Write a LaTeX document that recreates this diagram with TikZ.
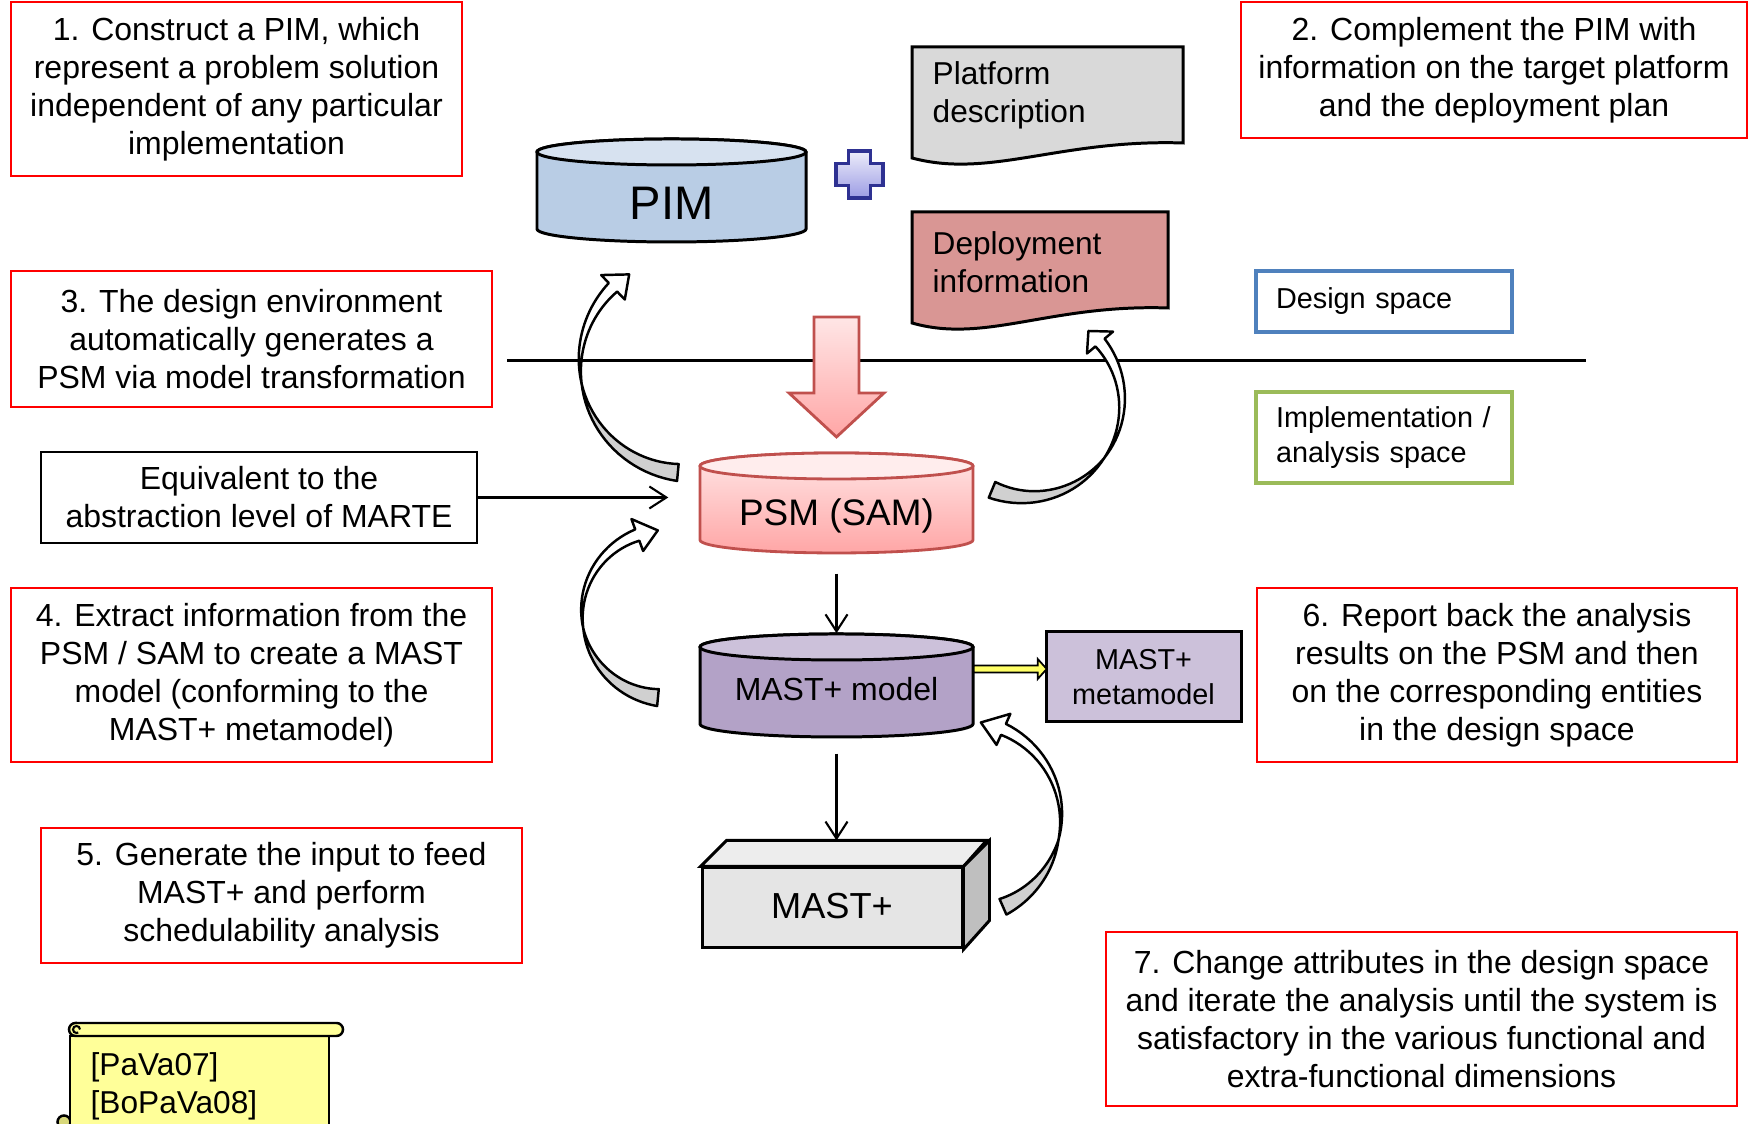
\documentclass[tikz,border=0pt]{standalone}
\usepackage{fontspec}
\setmainfont{Liberation Sans}
\usetikzlibrary{arrows.meta,calc}

\definecolor{pimblue}{HTML}{B9CDE5}
\definecolor{pimtop}{HTML}{D7E2F0}
\definecolor{psmline}{HTML}{C0504D}
\definecolor{psmlight}{HTML}{FFE6E6}
\definecolor{psmdark}{HTML}{FFA6A6}
\definecolor{psmtop}{HTML}{FFEDED}
\definecolor{mastviolet}{HTML}{B3A2C7}
\definecolor{masttop}{HTML}{CCC1DA}
\definecolor{platgrey}{HTML}{D9D9D9}
\definecolor{deployrose}{HTML}{D99694}
\definecolor{plusline}{HTML}{2E3192}
\definecolor{pluslight}{HTML}{ECECFA}
\definecolor{plusdark}{HTML}{9C9CE4}
\definecolor{designblue}{HTML}{4F81BD}
\definecolor{implgreen}{HTML}{9BBB59}
\definecolor{backgrey}{HTML}{D0D0D0}
\definecolor{scrollyellow}{HTML}{FFFF99}
\definecolor{scrolldark}{HTML}{D8D87A}
\definecolor{metayellow}{HTML}{FFFF66}

% cilindro: centro x, y topo, y base, meia largura, corpo, tampa
\newcommand{\dbcylinder}[6]{%
  \path[#5] (#1-#4,#2) -- (#1-#4,#3)
    arc[start angle=180, end angle=360, x radius=#4, y radius=0.13]
    -- (#1+#4,#2) arc[start angle=0, end angle=180, x radius=#4, y radius=0.13] -- cycle;
  \path[#6] (#1,#2) ellipse[x radius=#4, y radius=0.13];
}

% seta curva: centro x, centro y, raio, cauda, cruzamento, base da ponta, ponta
\newcommand{\bentarrow}[7]{%
  \filldraw[bentline, fill=backgrey]
    plot[domain=#4:#5, samples=24] ({#1+(#3+0.085*(\x-#5)/(#4-#5))*cos(\x)}, {#2+(#3+0.085*(\x-#5)/(#4-#5))*sin(\x)})
    -- plot[domain=#5:#4, samples=24] ({#1+(#3-0.085*(\x-#5)/(#4-#5))*cos(\x)}, {#2+(#3-0.085*(\x-#5)/(#4-#5))*sin(\x)})
    -- cycle;
  \filldraw[bentline, fill=white]
    plot[domain=#5:#6, samples=24] ({#1+(#3+0.06*(\x-#5)/(#6-#5))*cos(\x)}, {#2+(#3+0.06*(\x-#5)/(#6-#5))*sin(\x)})
    -- ({#1+(#3+0.17)*cos(#6)}, {#2+(#3+0.17)*sin(#6)})
    -- ({#1+#3*cos(#7)}, {#2+#3*sin(#7)})
    -- ({#1+(#3-0.17)*cos(#6)}, {#2+(#3-0.17)*sin(#6)})
    -- plot[domain=#6:#5, samples=24] ({#1+(#3-0.06*(\x-#5)/(#6-#5))*cos(\x)}, {#2+(#3-0.06*(\x-#5)/(#6-#5))*sin(\x)})
    -- cycle;
}

\begin{document}
\begin{tikzpicture}[
    redbox/.style={draw=red, line width=0.75pt, inner sep=0pt, align=center, font=\fontsize{9.1}{10.8}\selectfont},
    spacebox/.style={line width=0.9pt, inner xsep=0.2cm, inner ysep=0pt, text width=2.16cm, minimum height=#1, align=left, font=\fontsize{8.2}{9.8}\selectfont},
    doctext/.style={anchor=west, align=left, inner sep=0pt, font=\fontsize{9}{10.8}\selectfont},
    cylbox/.style={inner sep=0pt, minimum width=2.73cm},
    seta/.style={line width=0.6pt, -{Straight Barb[length=1.7mm, width=2.2mm]}},
    bentline/.style={draw=black, line width=0.7pt, line join=round},
    boxline/.style={draw=black, line width=0.85pt}
  ]
  \useasboundingbox (0,0) rectangle (17.49,11.24);

  % Passos
  \node[redbox, minimum width=4.51cm, minimum height=1.74cm] (s1) at (2.365,10.35) {1. Construct a PIM, which\\represent a problem solution\\independent of any particular\\implementation};
  \node[redbox, minimum width=5.06cm, minimum height=1.36cm] (s2) at (14.94,10.54) {2. Complement the PIM with\\information on the target platform\\and the deployment plan};
  \node[redbox, minimum width=4.81cm, minimum height=1.36cm] (s3) at (2.515,7.85) {3. The design environment\\automatically generates a\\PSM via model transformation};
  \node[draw, line width=0.6pt, inner sep=0pt, align=center, minimum width=4.36cm, minimum height=0.91cm,
        font=\fontsize{9.1}{10.8}\selectfont] (eqv) at (2.59,6.265) {Equivalent to the\\abstraction level of MARTE};
  \node[redbox, minimum width=4.81cm, minimum height=1.74cm] (s4) at (2.515,4.49) {4. Extract information from the\\PSM / SAM to create a MAST\\model (conforming to the\\MAST+ metamodel)};
  \node[redbox, minimum width=4.81cm, minimum height=1.35cm] (s5) at (2.815,2.285) {5. Generate the input to feed\\MAST+ and perform\\schedulability analysis};
  \node[redbox, minimum width=4.80cm, minimum height=1.74cm] (s6) at (14.97,4.49) {6. Report back the analysis\\results on the PSM and then\\on the corresponding entities\\in the design space};
  \node[redbox, minimum width=6.31cm, minimum height=1.74cm] (s7) at (14.215,1.05) {7. Change attributes in the design space\\and iterate the analysis until the system is\\satisfactory in the various functional and\\extra-functional dimensions};

  % Espacos
  \node[spacebox=0.61cm, draw=designblue] (design) at (13.84,8.225) {Design space};
  \node[spacebox=0.91cm, draw=implgreen] (impl) at (13.84,6.865) {Implementation /\\analysis space};

  % Linha divisoria
  \draw[line width=0.85pt] (5.07,7.63) -- (15.86,7.63);

  % PIM
  \dbcylinder{6.715}{9.72}{8.95}{1.345}{draw=black, line width=0.85pt, fill=pimblue}{draw=black, line width=0.85pt, fill=pimtop}
  \node[cylbox, font=\fontsize{13.4}{14}\selectfont] (pim) at (6.715,9.21) {PIM};

  % Sinal de mais
  \filldraw[draw=plusline, line width=1.1pt, top color=pluslight, bottom color=plusdark]
    (8.485,9.73) -- (8.705,9.73) -- (8.705,9.605) -- (8.83,9.605) -- (8.83,9.385) -- (8.705,9.385)
    -- (8.705,9.26) -- (8.485,9.26) -- (8.485,9.385) -- (8.36,9.385) -- (8.36,9.605) -- (8.485,9.605) -- cycle;

  % Documentos
  \filldraw[boxline, fill=platgrey] (9.12,9.66) -- (9.12,10.77) -- (11.83,10.77) -- (11.83,9.81)
    .. controls (10.6,9.85) and (9.9,9.45) .. (9.12,9.66) -- cycle;
  \node[doctext] (plat) at (9.32,10.285) {Platform\\description};
  \filldraw[boxline, fill=deployrose] (9.12,8.01) -- (9.12,9.12) -- (11.68,9.12) -- (11.68,8.16)
    .. controls (10.5,8.20) and (9.85,7.80) .. (9.12,8.01) -- cycle;
  \node[doctext] (deploy) at (9.32,8.615) {Deployment\\information};

  % Seta de transformacao
  \filldraw[draw=psmline, line width=0.8pt, top color=psmlight, bottom color=psmdark]
    (8.14,8.07) -- (8.59,8.07) -- (8.59,7.31) -- (8.84,7.31) -- (8.365,6.87) -- (7.89,7.31) -- (8.14,7.31) -- cycle;

  % PSM
  \dbcylinder{8.365}{6.58}{5.84}{1.365}{draw=psmline, line width=0.8pt, top color=psmlight, bottom color=psmdark}{draw=psmline, line width=0.8pt, fill=psmtop}
  \node[cylbox, minimum height=0.72cm, font=\fontsize{10.5}{12}\selectfont] (psm) at (8.365,6.08) {PSM (SAM)};

  % MAST+ model
  \dbcylinder{8.365}{4.77}{4.00}{1.365}{draw=black, line width=0.85pt, fill=mastviolet}{draw=black, line width=0.85pt, fill=masttop}
  \node[cylbox, minimum height=1.1cm, font=\fontsize{9.1}{10.8}\selectfont] (mastmodel) at (8.365,4.35) {MAST+ model};

  % Metamodelo
  \node[boxline, fill=masttop, inner sep=0pt, align=center, minimum width=1.95cm, minimum height=0.90cm,
        font=\fontsize{8.2}{9.8}\selectfont] (meta) at (11.435,4.47) {MAST+\\metamodel};
  \filldraw[draw=black, line width=0.5pt, fill=metayellow]
    ($(mastmodel.east |- meta.west)+(0,0.115)$) -- ++(0.64,0) -- ++(0,0.065) -- ++(0.09,-0.1)
    -- ++(-0.09,-0.1) -- ++(0,0.065) -- ++(-0.64,0) -- cycle;

  % MAST+
  \node[boxline, fill=gray!20, inner sep=0pt, minimum width=2.60cm, minimum height=0.80cm,
        font=\fontsize{10.3}{12}\selectfont] (mastplus) at (8.32,2.16) {\raisebox{0.05cm}{MAST+}};
  \filldraw[boxline, fill=gray!14] (mastplus.north west) -- ++(0.26,0.26) -- ++(2.60,0) -- (mastplus.north east) -- cycle;
  \filldraw[boxline, fill=gray!50] (mastplus.north east) -- ++(0.26,0.26) -- ++(0,-0.80) -- (mastplus.south east) -- cycle;
  \coordinate (mptop) at ([yshift=0.26cm]mastplus.north);

  % Setas
  \draw[seta] (eqv.east) -- (eqv.east -| psm.west) [shorten >=0.31cm];
  \draw[seta, shorten <=0.21cm] (psm.south) -- (mastmodel.north);
  \draw[seta, shorten <=0.09cm] (mastmodel.south) -- (mastmodel.south |- mptop);

  % Setas curvas
  \bentarrow{6.88}{7.59}{1.08}{264.6}{190}{134}{123}
  \bentarrow{10.28}{7.21}{0.94}{247.5}{324}{400}{410}
  \bentarrow{6.66}{5.10}{0.84}{264.5}{190}{110}{95.6}
  \bentarrow{9.64}{3.06}{0.97}{293.7}{347}{426}{440}

  % Referencias
  \begin{scope}
    \clip (0,0) rectangle (17.49,11.24);
    \filldraw[line width=0.7pt, fill=scrolldark] (0.64,0.02) circle (0.065);
    \filldraw[line width=0.7pt, fill=scrollyellow] (0.70,0.88) -- (0.70,-0.3) -- (3.29,-0.3) -- (3.29,0.88) -- cycle;
    \filldraw[line width=0.7pt, fill=scrollyellow] (0.755,1.01) -- (3.365,1.01)
      arc[start angle=90, end angle=-90, radius=0.065] -- (0.755,0.88)
      arc[start angle=270, end angle=90, radius=0.065] -- cycle;
    \draw[line width=0.6pt] (0.80,0.945) arc[start angle=0, end angle=300, radius=0.035];
  \end{scope}
  \node[doctext, font=\fontsize{9}{10.8}\selectfont] (refs) at (0.90,0.38) {[PaVa07]\\{}[BoPaVa08]};
\end{tikzpicture}
\end{document}
